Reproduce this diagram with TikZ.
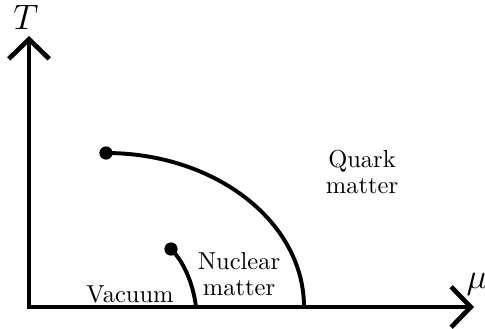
\documentclass[tikz,border=0pt]{standalone}
\usetikzlibrary{arrows.meta}
\begin{document}
\begin{tikzpicture}[x=0.408pt,y=-0.408pt,
  axis/.style={line width=1.9pt,{Straight Barb[length=8pt,width=16.5pt]}-{Straight Barb[length=8pt,width=16.5pt]}},
  curve/.style={line width=1.6pt},
  dotmark/.style={circle,fill=black,inner sep=0pt,minimum size=5.4pt},
  lbl/.style={align=center,font=\fontsize{10pt}{10.6pt}\selectfont,inner sep=0pt},
  axlbl/.style={font=\Large,inner sep=0pt}]
\useasboundingbox (0,0) rectangle (485,328);
\coordinate (O) at (29,307);
\coordinate (Ttip) at (29,36);
\coordinate (Mtip) at (474,307);
\draw[axis] (Ttip) -- (O) -- (Mtip);
\node[axlbl] (T) at (26,17) {$T$};
\node[axlbl] (mu) at (477,284) {$\mu$};
\node[dotmark] (d1) at (106,153) {};
\node[dotmark] (d2) at (171,249) {};
\coordinate (e1) at (304,307);
\coordinate (e2) at (196,307);
\draw[curve] (d1.center) arc[start angle=90,end angle=0,x radius=198,y radius=-154];
\draw[curve] (d2.center) .. controls (183,261) and (193,282) .. (e2);
\node[lbl] (quark) at (362,172) {Quark\\matter};
\node[lbl] (nuc) at (239,274) {Nuclear\\matter};
\node[lbl,anchor=base] (vac) at (130,302) {Vacuum};
\end{tikzpicture}
\end{document}
